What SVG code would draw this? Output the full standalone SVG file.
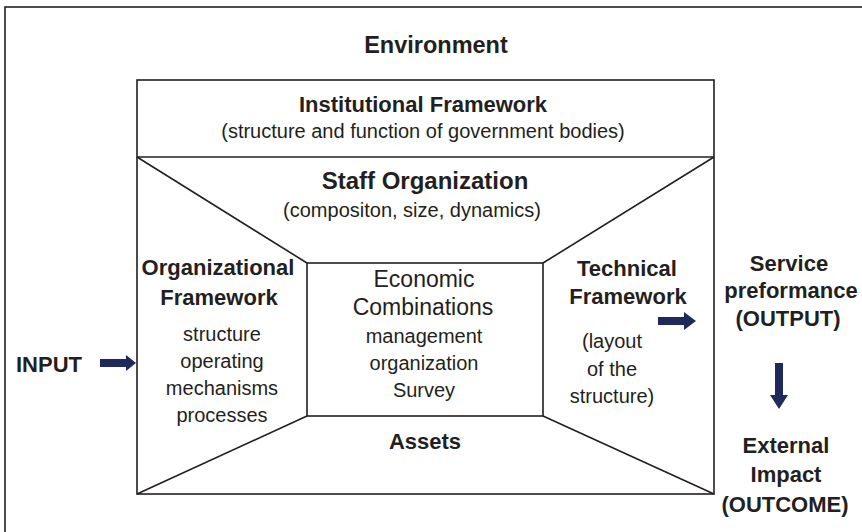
<svg xmlns="http://www.w3.org/2000/svg" width="862" height="532" viewBox="0 0 862 532">
<style>
text{font-family:"Liberation Sans","Lato",sans-serif;fill:#231f20;text-anchor:middle}
.b{font-weight:bold;font-size:22px}
.r{font-size:20px}
.ln{fill:none;stroke:#231f20;stroke-width:1.6}
.ar{fill:#1f2a5c;stroke:none}
</style>
<rect width="862" height="532" fill="#fff"/>
<g id="environment">
<rect class="ln" x="5" y="7" width="870" height="540"/>
<text class="b" x="436" y="53" style="font-size:23.5px">Environment</text>
</g>
<g id="frame">
<rect class="ln" x="137" y="80" width="577" height="414"/>
<line class="ln" x1="137" y1="157" x2="714" y2="157"/>
</g>
<g id="institutional">
<text class="b" x="423" y="112">Institutional Framework</text>
<text class="r" x="423" y="138">(structure and function of government bodies)</text>
</g>
<g id="staff">
<text class="b" x="425" y="189" style="font-size:24px">Staff Organization</text>
<text class="r" x="412" y="217">(compositon, size, dynamics)</text>
</g>
<g id="organizational">
<text class="b" x="218" y="275">Organizational</text>
<text class="b" x="219" y="305">Framework</text>
<text class="r" x="222" y="341">structure</text>
<text class="r" x="222" y="368">operating</text>
<text class="r" x="222" y="395">mechanisms</text>
<text class="r" x="222" y="422">processes</text>
</g>
<g id="economic">
<rect class="ln" x="307" y="263" width="236" height="153"/>
<text x="424" y="287" style="font-size:23px">Economic</text>
<text x="423" y="315" style="font-size:23px">Combinations</text>
<text class="r" x="424" y="343">management</text>
<text class="r" x="424" y="370">organization</text>
<text class="r" x="424" y="397">Survey</text>
</g>
<g id="assets">
<text class="b" x="425" y="449">Assets</text>
</g>
<g id="technical">
<text class="b" x="627" y="276">Technical</text>
<text class="b" x="628" y="304">Framework</text>
<text class="r" x="612" y="348">(layout</text>
<text class="r" x="612" y="376">of the</text>
<text class="r" x="612" y="403">structure)</text>
</g>
<g id="input">
<text class="b" x="49" y="372">INPUT</text>
</g>
<g id="output">
<text class="b" x="789" y="271">Service</text>
<text class="b" x="791" y="298">preformance</text>
<text class="b" x="788" y="326">(OUTPUT)</text>
</g>
<g id="outcome">
<text class="b" x="786" y="453">External</text>
<text class="b" x="786" y="482">Impact</text>
<text class="b" x="785" y="512">(OUTCOME)</text>
</g>
<g id="connectors">
<line class="ln" x1="137" y1="157" x2="307" y2="263"/>
<line class="ln" x1="714" y1="157" x2="543" y2="263"/>
<line class="ln" x1="137" y1="494" x2="307" y2="416"/>
<line class="ln" x1="714" y1="494" x2="543" y2="416"/>
<polygon class="ar" points="100,359 126,359 126,355 136,363 126,371 126,367 100,367"/>
<polygon class="ar" points="658,317 684,317 684,312 696,321 684,330 684,325 658,325"/>
<polygon class="ar" points="775,363 783,363 783,395 788,395 779,409 770,395 775,395"/>
</g>
</svg>
